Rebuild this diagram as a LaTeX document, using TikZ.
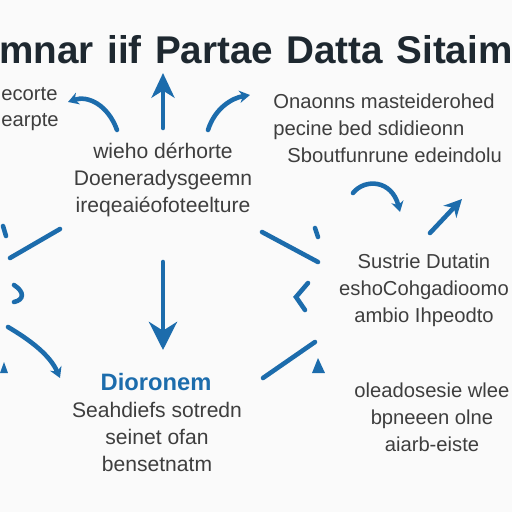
\documentclass[tikz,border=0pt]{standalone}
\usepackage{fontspec}
\setmainfont{Liberation Sans}
\usetikzlibrary{arrows.meta}
\definecolor{flowblue}{RGB}{28,108,172}
\definecolor{inkgray}{RGB}{62,62,62}
\definecolor{titleink}{RGB}{30,40,48}

\begin{document}
\begin{tikzpicture}[x=0.02cm,y=-0.02cm,
    flow/.style={flowblue, line width=2.6pt, line cap=round},
    body/.style={inkgray, font=\fontsize{11.5}{15.3}\selectfont, align=center, inner sep=0pt},
    bigtip/.style={-{Stealth[length=14pt,width=13pt,inset=4pt]}},
    smalltip/.style={-{Stealth[length=6pt,width=7pt]}}]
    % Canvas
    \fill[white!98!black] (0,0) rectangle (512,512);
    \clip (0,0) rectangle (512,512);

    % Title
    \node[titleink, font=\fontsize{22}{24}\selectfont\bfseries, inner sep=0pt] (title) at (256,50) {mnar\hspace{1.5pt} iif\hspace{1.5pt} Partae\hspace{1.5pt} Datta\hspace{1.5pt} Sitaim};

    % Text blocks
    \node[body, align=left, anchor=west] (corner) at (1,109) {ecorte\\earpte};
    \node[body, font=\fontsize{12}{15.3}\selectfont] (hub) at (163,180) {wieho dérhorte\\Doeneradysgeemn\\ireqeaiéofoteelture};
    \node[body, align=left, anchor=west] (notes) at (273,128) {Onaonns masteiderohed\\pecine bed sdidieonn\\\hspace{8pt}Sboutfunrune edeindolu};
    \node[body] (side) at (424,290) {Sustrie Dutatin\\eshoCohgadioomo\\ambio Ihpeodto};
    \node[flowblue, font=\fontsize{13.5}{15}\selectfont\bfseries, inner sep=0pt] (head) at (156,382) {Dioronem};
    \node[body, font=\fontsize{12}{15.3}\selectfont] (base) at (157,437) {Seahdiefs sotredn\\seinet ofan\\bensetnatm};
    \node[body] (tail) at (432,417) {oleadosesie wlee\\bpneeen olne\\aiarb-eiste};

    % Arrow ends
    \coordinate (upA) at (163,128);  \coordinate (upB) at (163,73);
    \coordinate (dnA) at (163,262);  \coordinate (dnB) at (163,350);
    \coordinate (clA) at (117,130);  \coordinate (clB) at (68,102);
    \coordinate (crA) at (208,130);  \coordinate (crB) at (250,95);
    \coordinate (arcA) at (353,193); \coordinate (arcB) at (400,212);
    \coordinate (dgA) at (430,233);  \coordinate (dgB) at (462,199);
    \coordinate (llA) at (10,258);   \coordinate (llB) at (60,229);
    \coordinate (lcA) at (8,327);    \coordinate (lcB) at (60,378);
    \coordinate (rlA) at (262,232);  \coordinate (rlB) at (318,262);
    \coordinate (rdA) at (263,378);  \coordinate (rdB) at (315,342);

    % Arrows round the hub
    \draw[flow, bigtip] (upA) -- (upB);
    \draw[flow, -{Stealth[length=16pt,width=16pt,inset=5pt]}] (dnA) -- (dnB);
    \draw[flow, smalltip] (clA) .. controls (108,105) and (88,95) .. (clB);
    \draw[flow, smalltip] (crA) .. controls (215,108) and (232,98) .. (crB);
    \draw[flow, smalltip] (arcA) .. controls (365,178) and (392,180) .. (arcB);
    \draw[flow, -{Stealth[length=10pt,width=10pt]}] (dgA) -- (dgB);
    \draw[flow] (llA) -- (llB);
    \draw[flow, smalltip] (lcA) .. controls (30,340) and (50,355) .. (lcB);
    \draw[flow] (rlA) -- (rlB);
    \draw[flow] (rdA) -- (rdB);

    % Loose marks
    \draw[flow] (3,226) -- (6,236);
    \draw[flow] (14,285) .. controls (25,292) and (24,300) .. (14,302);
    \draw[flow] (315,228) -- (318,237);
    \draw[flow] (308,283) -- (296,297) -- (305,310);
    \fill[flowblue] (0,373) -- (4,362) -- (8,373) -- cycle;
    \fill[flowblue] (312,373) -- (318,358) -- (325,373) -- cycle;
\end{tikzpicture}
\end{document}
